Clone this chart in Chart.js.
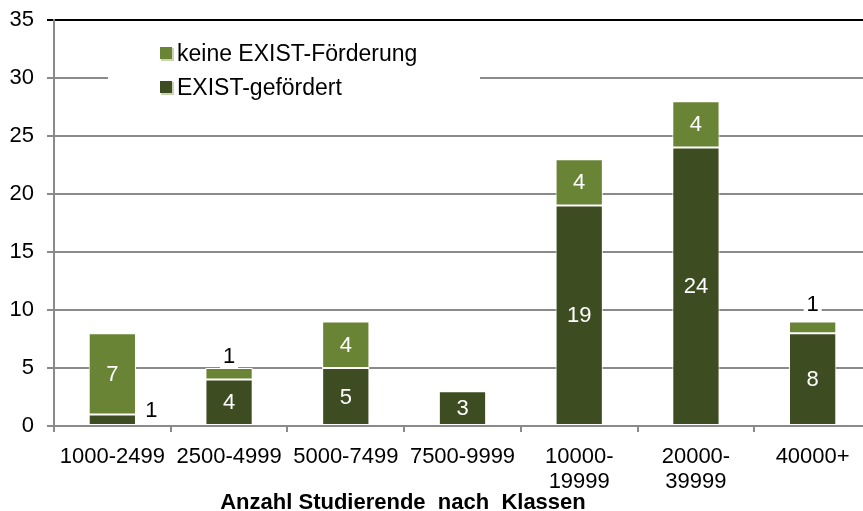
<!DOCTYPE html>
<html>
<head>
<meta charset="utf-8">
<script src="https://cdn.jsdelivr.net/npm/chart.js@4/dist/chart.umd.min.js"></script>
<style>
  html, body { margin: 0; padding: 0; background: #fff; overflow: hidden; }
</style>
</head>
<body>
<!-- Zeichenfläche etwas breiter als das Fenster: rechter Rand wird abgeschnitten -->
<canvas id="studChart" width="871" height="511"></canvas>
<script>
//********************** Daten *******************************************
var klassen = ['1000-2499', '2500-4999', '5000-7499', '7500-9999', ['10000-', '19999'], ['20000-', '39999'], '40000+'];
var gefoerdert = [1, 4, 5, 3, 19, 24, 8];
var keineFoerderung = [7, 1, 4, 0, 4, 4, 1];
var yTicks = [0, 5, 10, 15, 20, 25, 30, 35];

var dunkel = '#3d4d21';
var hell = '#6a8436';
var schrift = '"Liberation Sans", Arial, sans-serif';

// Werte in/neben die Balken schreiben
var wertePlugin = {
  id: 'werte',
  afterDatasetsDraw: function(chart) {
    var ctx = chart.ctx;
    ctx.save();
    ctx.font = '22px ' + schrift;
    ctx.textAlign = 'center';
    ctx.textBaseline = 'middle';
    chart.data.datasets.forEach(function(ds, di) {
      chart.getDatasetMeta(di).data.forEach(function(bar, i) {
        var v = ds.data[i];
        if (!v) return;
        var mitte = (bar.y + bar.base) / 2;
        if (v >= 3) {
          ctx.fillStyle = '#fff';
          ctx.fillText(v, bar.x, mitte + 1);
        } else if (di === 0) {
          // kleines Segment unten -> rechts daneben
          ctx.fillStyle = '#000';
          ctx.fillText(v, bar.x + 39, mitte - 9);
        } else {
          var y = bar.y - 11 - (i === 6 ? 6 : 0);
          ctx.fillStyle = '#fff';
          ctx.fillRect(bar.x - 9, y - 11, 18, 22);
          ctx.fillStyle = '#000';
          ctx.fillText(v, bar.x, y);
        }
      });
    });
    ctx.restore();
  }
};

// Legende im Diagramm + Achsentitel
var legendePlugin = {
  id: 'legende',
  afterDraw: function(chart) {
    var ctx = chart.ctx;
    ctx.save();
    ctx.fillStyle = '#fff';
    ctx.fillRect(108, 30, 372, 80);
    var eintraege = [['keine EXIST-Förderung', hell], ['EXIST-gefördert', dunkel]];
    ctx.font = '23px ' + schrift;
    ctx.textBaseline = 'middle';
    ctx.textAlign = 'left';
    eintraege.forEach(function(e, k) {
      var y = 54 + k * 34;
      ctx.fillStyle = '#c9d5b2';
      ctx.fillRect(161, y - 6, 13, 13);
      ctx.fillStyle = e[1];
      ctx.fillRect(160, y - 7, 12, 12);
      ctx.fillStyle = '#000';
      ctx.fillText(e[0], 177, y + 1);
    });
    ctx.font = 'bold 22px ' + schrift;
    ctx.textAlign = 'center';
    ctx.fillText('Anzahl Studierende  nach  Klassen', 403, 503);
    ctx.restore();
  }
};

var chart = new Chart(document.getElementById('studChart'), {
  type: 'bar',
  data: {
    labels: klassen,
    datasets: [
      {
        label: 'EXIST-gefördert',
        data: gefoerdert,
        backgroundColor: dunkel,
        borderColor: '#fff',
        borderWidth: 1,
        borderSkipped: false,
        barPercentage: 0.405,
        categoryPercentage: 1
      },
      {
        label: 'keine EXIST-Förderung',
        data: keineFoerderung,
        backgroundColor: hell,
        borderColor: '#fff',
        borderWidth: 1,
        borderSkipped: false,
        barPercentage: 0.405,
        categoryPercentage: 1
      }
    ]
  },
  options: {
    responsive: false,
    animation: false,
    layout: { padding: { top: 20, right: 0, left: 0, bottom: 0 } },
    plugins: {
      legend: { display: false },
      tooltip: { enabled: false }
    },
    scales: {
      x: {
        stacked: true,
        afterFit: function(s) { s.height = 85; s.paddingLeft = 0; s.paddingRight = 0; },
        grid: { offset: true, drawOnChartArea: false, drawTicks: true, tickLength: 6, color: '#8a8a8a', lineWidth: 2 },
        border: { color: '#8a8a8a', width: 2 },
        ticks: { color: '#000', font: { family: schrift, size: 22, lineHeight: 1.12 }, padding: 13, maxRotation: 0, autoSkip: false }
      },
      y: {
        stacked: true,
        min: 0,
        max: 35,
        afterFit: function(s) { s.width = 54; s.paddingTop = 0; s.paddingBottom = 0; },
        afterBuildTicks: function(s) { s.ticks = yTicks.map(function(v) { return { value: v }; }); },
        grid: {
          color: function(c) { return c.tick && c.tick.value === 35 ? '#000' : '#8a8a8a'; },
          lineWidth: 2,
          tickLength: 7
        },
        border: { color: '#8a8a8a', width: 2 },
        ticks: { color: '#000', font: { family: schrift, size: 22 }, padding: 13 }
      }
    }
  },
  plugins: [wertePlugin, legendePlugin]
});
</script>
</body>
</html>
